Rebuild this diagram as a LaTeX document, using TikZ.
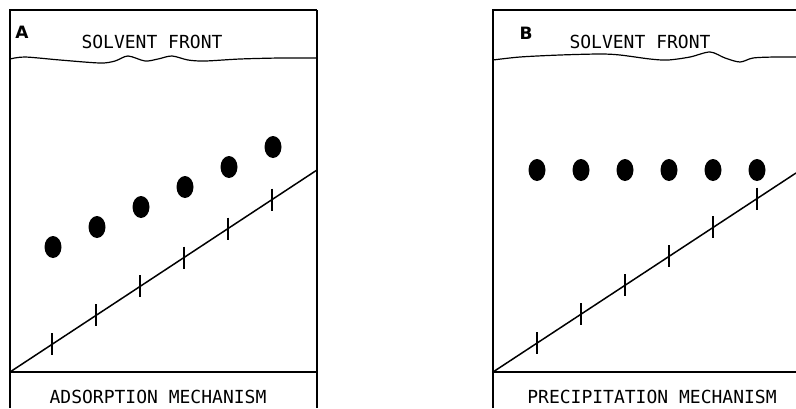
\documentclass[tikz,border=0pt]{standalone}
\usepackage{fontspec}
\newfontfamily\platefont{DejaVu Sans Mono}
\newfontfamily\tagfont{DejaVu Sans}
\begin{document}
\begin{tikzpicture}[x=1pt,y=-1pt,line width=1.5pt,
  lbl/.style={font=\platefont\fontsize{18}{20}\selectfont,inner sep=0pt},
  tag/.style={font=\tagfont\bfseries\fontsize{17}{19}\selectfont,inner sep=0pt}]
\useasboundingbox (0,0) rectangle (796,408);
\foreach \s/\w in {10/307,493/320}{\draw(\s,408)--(\s,10)--(\s+\w,10);\draw(\s,372)--(\s+\w,372);}
\draw(317,10)--(317,408);
\draw[line width=1.2pt]plot[smooth]coordinates{(10,59)(25,57)(60,60)(100,63)(115,61)(128,56)(145,61)(158,59)(172,56)(188,60)(205,61)(240,59)(280,58)(317,58)};
\draw[line width=1.2pt]plot[smooth]coordinates{(493,60)(520,57)(560,55)(600,54)(620,55)(650,59)(668,60)(690,57)(710,52)(725,58)(740,62)(753,58)(775,57)(796,57)};
\draw(10,372)--(317,170);\draw(493,372)--(796,173);
\foreach \x in {52,96,140,184,228,272}{\draw[line width=1.1pt](\x,{361-.658*(\x-10)})--++(0,22);}
\foreach \x in {537,581,625,669,713,757}{\draw[line width=1.1pt](\x,{361-.657*(\x-493)})--++(0,22);}
\foreach \k in {0,...,5}{\fill({53+44*\k},{247-20*\k})ellipse[x radius=8.5,y radius=11];\fill({537+44*\k},170)ellipse[x radius=8.5,y radius=11];}
\node[tag](tagA)at(22,32){A};\node[tag](tagB)at(526,33){B};
\node[lbl](frontA)at(152,42){SOLVENT FRONT};\node[lbl](frontB)at(640,42){SOLVENT FRONT};
\node[lbl](mechA)at(158,397){ADSORPTION MECHANISM};\node[lbl](mechB)at(652,397){PRECIPITATION MECHANISM};
\end{tikzpicture}
\end{document}
